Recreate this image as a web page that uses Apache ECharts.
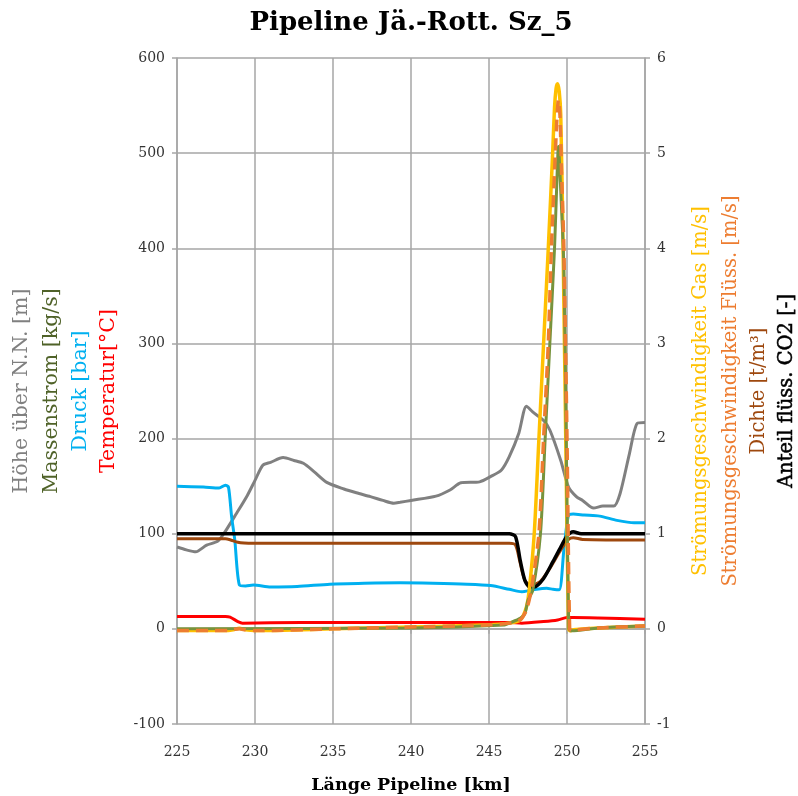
<!DOCTYPE html>
<html>
<head>
<meta charset="utf-8">
<script src="https://cdn.jsdelivr.net/npm/echarts@6/dist/echarts.min.js"></script>
<style>html,body{margin:0;padding:0;background:#fff}#c{width:798px;height:796px}</style>
</head>
<body>
<div id="c"></div>
<script>
// ---- data (x = km) ----
var title = 'Pipeline Jä.-Rott. Sz_5';
var xName = 'Länge Pipeline [km]';
var leftNames = ['Höhe über N.N. [m]', 'Massenstrom [kg/s]', 'Druck [bar]', 'Temperatur[°C]'];
var rightNames = ['Strömungsgeschwindigkeit Gas [m/s]', 'Strömungsgeschwindigkeit Flüss. [m/s]', 'Dichte [t/m³]', 'Anteil flüss. CO2 [-]'];

var hoehe = [[225,86],[225.6,83],[226.2,81],[226.9,88],[227.6,92],[228,100],[228.8,121],[229.5,140],[230,156],[230.5,172],[231,175],[231.8,180],[232.5,177],[233.1,174],[233.8,165],[234.6,154],[235.7,147],[236.5,143],[237.4,139],[238.2,135],[238.9,132],[239.3,133],[240,135],[241.6,139.5],[242.5,146],[243.2,153.5],[244.4,154.5],[245.1,160],[245.8,167],[246.3,181],[246.9,205],[247.4,234],[247.8,228],[248.5,219],[248.9,209],[249.6,177],[250.1,149],[250.6,139],[251,135],[251.7,127],[252.3,129],[253,129],[253.4,142],[254,184],[254.5,216],[255,217]];

var druck = [[225,150],[226.7,149],[227.7,148],[228.1,151],[228.3,149],[228.5,118],[228.7,94],[229.0,46],[229.4,45],[229.9,46],[231,44],[232.7,44.5],[234.8,47],[237,48],[239.3,48.5],[241.4,48],[243.6,47],[245.1,45.5],[246.3,41.6],[247.1,39],[247.8,41],[248.7,42.7],[249.1,41.6],[249.5,41],[249.8,83],[250.1,119.6],[250.4,120.6],[251.1,119.6],[252.1,118.5],[253.2,114],[254.3,111.5],[255,111.5]];

var temperatur = [[225,13],[228.1,13],[228.4,12.3],[228.9,7.7],[229.2,6],[231,6.3],[235,6.8],[240,6.6],[246.3,6.6],[247.1,6],[248.5,7.7],[249.4,9.4],[250,11.9],[250.4,12],[252,11.5],[255,10.1]];

var massenstrom = [[225,0],[240,1],[246,4],[246.3,6],[247,11],[247.3,16],[247.5,30],[247.8,40],[248.3,100],[248.6,200],[248.9,300],[249.2,400],[249.35,470],[249.45,507],[249.6,460],[249.8,380],[249.95,200],[250.12,0],[250.3,-2],[252,1],[255,3]];

var co2 = [[225,1],[246.3,1],[246.7,0.97],[247.0,0.72],[247.3,0.51],[247.6,0.44],[247.9,0.44],[248.5,0.53],[249.1,0.706],[249.6,0.86],[250,0.975],[250.4,1.02],[250.9,1.0],[255,1.0]];

var dichte = [[225,0.947],[228.1,0.947],[228.4,0.937],[228.9,0.91],[229.3,0.902],[230,0.9],[246.3,0.899],[246.7,0.88],[247,0.69],[247.3,0.51],[247.7,0.46],[248.3,0.50],[248.9,0.636],[249.6,0.83],[250.1,0.94],[250.4,0.958],[251,0.94],[255,0.934]];

var vGas = [[225,-0.018],[228.3,-0.018],[228.6,-0.01],[229,0.007],[229.4,-0.01],[230,-0.018],[235,0],[239.3,0.017],[245.1,0.042],[246.3,0.06],[247,0.094],[247.4,0.23],[247.6,0.44],[247.9,1.0],[248.2,2.0],[248.5,3.0],[248.8,4.0],[249.07,4.96],[249.2,5.48],[249.3,5.68],[249.39,5.73],[249.5,5.65],[249.6,5.4],[249.75,4.0],[249.92,2.0],[250.1,0.0],[250.2,-0.02],[250.4,-0.01],[252,0.01],[255,0.03]];

var vFl = [[225,-0.018],[228.3,-0.018],[228.7,-0.005],[229,0.0],[229.4,-0.01],[230,-0.018],[235,0],[239.3,0.017],[245.1,0.042],[246.3,0.06],[247,0.094],[247.4,0.2],[247.7,0.4],[248.2,1.0],[248.5,2.0],[248.8,3.0],[249.0,4.0],[249.2,4.8],[249.35,5.35],[249.45,5.56],[249.55,5.4],[249.65,4.8],[249.8,4.0],[250.0,2.0],[250.17,0],[250.3,-0.02],[250.6,-0.01],[252,0.01],[255,0.03]];

var leftColors = ['#808080', '#4F6228', '#00B0F0', '#FF0000'];
var rightColors = ['#FFC000', '#ED7D31', '#9E480E', '#000000'];

var FONT = 'DejaVu Serif';
var chart = echarts.init(document.getElementById('c'));

var graphics = [];
graphics.push({type: 'text', x: 411, y: 23,
  style: {text: title, fill: '#000', font: 'bold 26px "' + FONT + '"', textAlign: 'center', textVerticalAlign: 'middle'}});
var lx = [22, 52, 81, 109];
leftNames.forEach(function (t, i) {
  graphics.push({type: 'text', x: lx[i], y: 391, rotation: Math.PI / 2,
    style: {text: t, fill: leftColors[i], font: '20.5px "' + FONT + '"', textAlign: 'center', textVerticalAlign: 'middle'}});
});
var rx = [701, 731, 759, 787];
rightNames.forEach(function (t, i) {
  graphics.push({type: 'text', x: rx[i], y: 391, rotation: Math.PI / 2,
    style: {text: t, fill: rightColors[i], font: '19.5px "' + FONT + '"', textAlign: 'center', textVerticalAlign: 'middle',
      stroke: i === 3 ? '#000' : null, lineWidth: i === 3 ? 0.5 : 0}});
});

function line(name, data, color, yi, w, z, dash) {
  return {name: name, type: 'line', data: data, yAxisIndex: yi, showSymbol: false, symbol: 'none', z: z,
    smooth: 0.25, lineStyle: {color: color, width: w, type: dash || 'solid', cap: 'butt'}};
}

var gridColor = '#a6a6a6';
chart.setOption({
  animation: false,
  textStyle: {fontFamily: FONT},
  grid: {left: 177, right: 153, top: 58, bottom: 72, containLabel: false, outerBoundsMode: 'none'},
  graphic: graphics,
  xAxis: {type: 'value', min: 225, max: 255, interval: 5,
    name: xName, nameLocation: 'middle', nameGap: 52,
    nameTextStyle: {fontFamily: FONT, fontWeight: 'bold', fontSize: 17.5, color: '#000'},
    axisLine: {show: true, lineStyle: {color: gridColor, width: 1.5}},
    axisTick: {show: true, length: 5, lineStyle: {color: gridColor, width: 1.5}},
    axisLabel: {fontFamily: FONT, fontSize: 14, color: '#333', margin: 21},
    splitLine: {show: true, lineStyle: {color: gridColor, width: 1.5}}},
  yAxis: [
    {type: 'value', min: -100, max: 600, interval: 100, position: 'left',
      axisLine: {show: true, lineStyle: {color: gridColor, width: 1.5}},
      axisTick: {show: true, length: 5, lineStyle: {color: gridColor, width: 1.5}},
      axisLabel: {fontFamily: FONT, fontSize: 14, color: '#333', margin: 12},
      splitLine: {show: true, lineStyle: {color: gridColor, width: 1.5}}},
    {type: 'value', min: -1, max: 6, interval: 1, position: 'right',
      axisLine: {show: true, lineStyle: {color: gridColor, width: 1.5}},
      axisTick: {show: true, length: 5, lineStyle: {color: gridColor, width: 1.5}},
      axisLabel: {fontFamily: FONT, fontSize: 14, color: '#333', margin: 12},
      splitLine: {show: false}}
  ],
  series: [
    line('Höhe', hoehe, '#808080', 0, 3, 2),
    line('Druck', druck, '#00B0F0', 0, 3, 3),
    line('Dichte', dichte, '#9E480E', 1, 3, 4),
    line('Anteil CO2', co2, '#000000', 1, 3.5, 5),
    line('Temperatur', temperatur, '#FF0000', 0, 3, 6),
    line('Gas', vGas, '#FFC000', 1, 3.5, 7),
    line('Massenstrom', massenstrom, '#77933C', 0, 3, 8),
    line('Flüss', vFl, '#ED7D31', 1, 3.5, 9, [12, 7])
  ]
});
</script>
</body>
</html>
